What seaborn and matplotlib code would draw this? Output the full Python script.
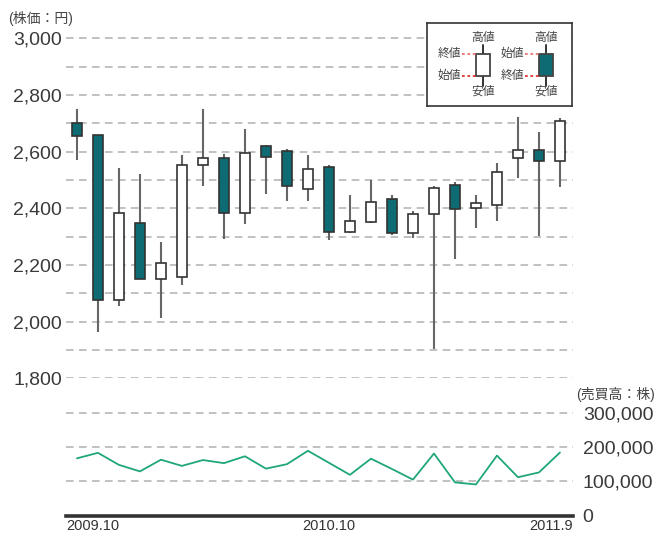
import matplotlib
matplotlib.use("Agg")
import matplotlib.pyplot as plt
from matplotlib.patches import Rectangle
import pandas as pd
import seaborn as sns

# ---- data ----
months = ["2009.10", "2009.11", "2009.12", "2010.1", "2010.2", "2010.3",
          "2010.4", "2010.5", "2010.6", "2010.7", "2010.8", "2010.9",
          "2010.10", "2010.11", "2010.12", "2011.1", "2011.2", "2011.3",
          "2011.4", "2011.5", "2011.6", "2011.7", "2011.8", "2011.9"]
open_ = [2700, 2660, 2075, 2349, 2152, 2156, 2553, 2576, 2385, 2619, 2604, 2467,
         2545, 2318, 2353, 2432, 2312, 2380, 2482, 2400, 2411, 2578, 2605, 2568]
close = [2654, 2075, 2385, 2152, 2206, 2553, 2576, 2385, 2596, 2581, 2480, 2538,
         2318, 2354, 2424, 2312, 2380, 2471, 2396, 2418, 2529, 2605, 2566, 2709]
high = [2749, 2660, 2544, 2521, 2282, 2588, 2749, 2591, 2679, 2624, 2611, 2588,
        2553, 2447, 2499, 2447, 2392, 2479, 2494, 2447, 2559, 2724, 2671, 2718]
low = [2569, 1962, 2056, 2150, 2013, 2131, 2480, 2291, 2344, 2449, 2426, 2427,
       2288, 2314, 2349, 2305, 2294, 1902, 2221, 2329, 2354, 2506, 2302, 2476]
volume = [167000, 183000, 148000, 129000, 163000, 145000, 162000, 153000,
          173000, 137000, 150000, 189000, 154000, 119000, 166000, 136000,
          105000, 181000, 97000, 91000, 175000, 112000, 126000, 184000]

df = pd.DataFrame({"month": months, "open": open_, "close": close,
                   "high": high, "low": low, "volume": volume})
df["idx"] = range(len(df))

TEAL = "#0e6b73"
GREEN = "#1fa67a"
TXT = "#444444"
GRID = "#b0b0b0"

sns.set_style("white")
plt.rcParams["font.family"] = ["Liberation Sans", "Noto Sans CJK JP", "DejaVu Sans"]

W, H = 658, 533
fig = plt.figure(figsize=(W / 100, H / 100), dpi=100)

x0, x1 = 66, 573
y_top, y_mid, y_bot = 38.3, 378.3, 515.7
xlim = (-0.52, 23.62)

# ---- price (candles) ----
ax = fig.add_axes([x0 / W, 1 - y_mid / H, (x1 - x0) / W, (y_mid - y_top) / H])
ax.set_xlim(xlim)
ax.set_ylim(1800, 3000)
for v in range(1800, 3001, 100):
    ax.axhline(v, color=GRID, lw=1.1, ls=(0, (5, 3.5)), zorder=0, clip_on=False)

for _, r in df.iterrows():
    ax.vlines(r["idx"], r["low"], r["high"], color="#666666", lw=1.5, zorder=2)
    bottom = min(r["open"], r["close"])
    height = abs(r["close"] - r["open"])
    face = TEAL if r["close"] < r["open"] else "white"
    ax.bar(r["idx"], height, bottom=bottom, width=0.5, color=face,
           edgecolor="#333333", linewidth=1.2, zorder=3)

ax.set_yticks(range(1800, 3001, 200))
ax.set_yticklabels([f"{v:,}" for v in range(1800, 3001, 200)])
ax.tick_params(axis="y", length=0, pad=3, labelsize=14, labelcolor="#3a3a3a")
ax.set_xticks([])
for s in ax.spines.values():
    s.set_visible(False)

# ---- volume (line) ----
axv = fig.add_axes([x0 / W, 1 - y_bot / H, (x1 - x0) / W, (y_bot - y_mid) / H])
sns.lineplot(data=df, x="idx", y="volume", color=GREEN, lw=1.3, ax=axv)
axv.set_xlim(xlim)
axv.set_ylim(0, 400000)
for v in [100000, 200000, 300000]:
    axv.axhline(v, color=GRID, lw=1.1, ls=(0, (5, 3.5)), zorder=0)
axv.yaxis.tick_right()
axv.set_yticks([0, 100000, 200000, 300000])
axv.set_yticklabels(["0", "100,000", "200,000", "300,000"])
axv.tick_params(axis="y", length=0, pad=7, labelsize=14, labelcolor="#3a3a3a")
axv.set_xticks([])
axv.set_xlabel("")
axv.set_ylabel("")
for s in ["top", "left", "right"]:
    axv.spines[s].set_visible(False)
axv.spines["bottom"].set_color("#333333")
axv.spines["bottom"].set_linewidth(2.6)

# x labels (cut at the bottom edge like the reference)
xfont = dict(size=10.5, color="#333333", va="top")
ylab = 1 - 519 / H
fig.text(x0 / W, ylab, months[0], ha="left", **xfont)
fig.text((x0 + (x1 - x0) * (12 - xlim[0]) / (xlim[1] - xlim[0])) / W, ylab,
         months[12], ha="center", **xfont)
fig.text(x1 / W, ylab, months[-1], ha="right", **xfont)

# unit labels
fig.text(8 / W, 1 - 18 / H, "(株価：円)", ha="left", va="center",
         fontsize=10, color=TXT)
fig.text(655 / W, 1 - 394 / H, "(売買高：株)", ha="right", va="center",
         fontsize=10, color=TXT)

# ---- legend box ----
lx0, lx1, ly0, ly1 = 427, 572, 23, 106
lg = fig.add_axes([lx0 / W, 1 - ly1 / H, (lx1 - lx0) / W, (ly1 - ly0) / H])
lg.set_xlim(lx0, lx1)
lg.set_ylim(ly1, ly0)
lg.set_xticks([])
lg.set_yticks([])
for s in lg.spines.values():
    s.set_color("#333333")
    s.set_linewidth(1.2)
lg.set_facecolor("white")

lfont = dict(fontsize=8.5, color=TXT, va="center")
for cx, face, upper, lower in [(483, "white", "終値", "始値"), (546, TEAL, "始値", "終値")]:
    lg.plot([cx, cx], [45, 86], color="#333333", lw=1.4, zorder=1)
    lg.add_patch(Rectangle((cx - 7, 54), 14, 22, facecolor=face,
                           edgecolor="#444444", lw=1.3, zorder=2))
    lg.plot([cx - 21, cx - 7], [54, 54], color="#f07070", lw=1.3, ls=(0, (1.5, 1.5)))
    lg.plot([cx - 21, cx - 7], [76, 76], color="#e03030", lw=1.3, ls=(0, (1.5, 1.5)))
    lg.text(cx, 38, "高値", ha="center", **lfont)
    lg.text(cx, 92, "安値", ha="center", **lfont)
    lg.text(cx - 22, 54, upper, ha="right", **lfont)
    lg.text(cx - 22, 76, lower, ha="right", **lfont)

fig.savefig("out.png", dpi=100)
